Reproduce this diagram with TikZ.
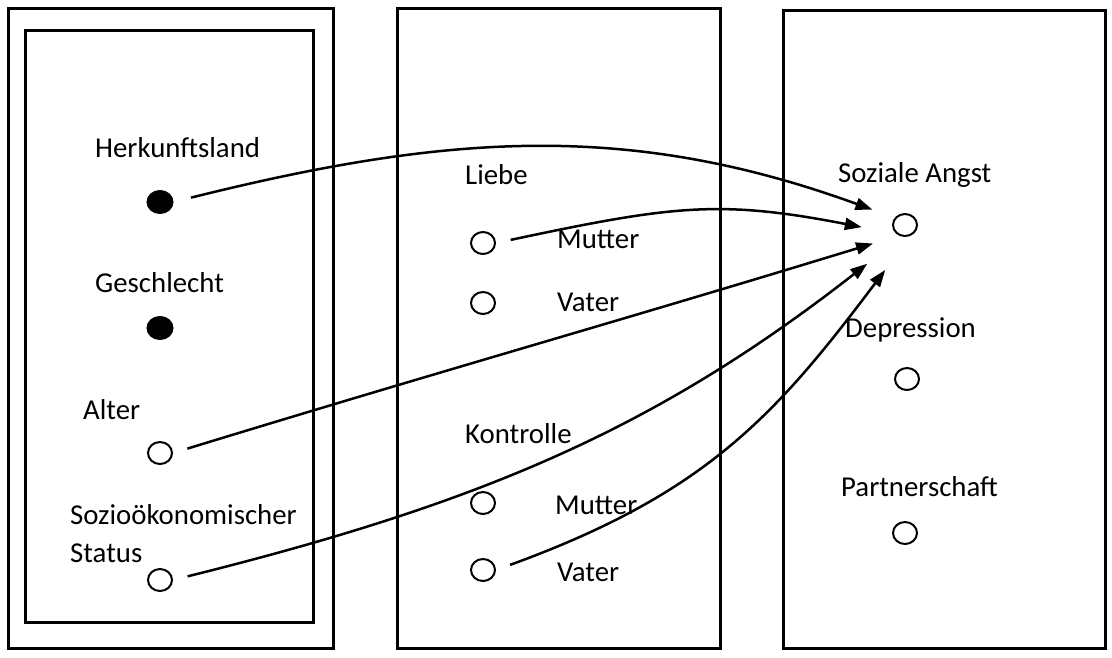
\documentclass[tikz,border=0pt]{standalone}
\usepackage{fontspec}
\setmainfont{Carlito}
\usetikzlibrary{arrows.meta,shapes.geometric}
\begin{document}
\begin{tikzpicture}[x=1pt,y=1pt,
  frame/.style={draw,line width=3pt},
  lbl/.style={anchor=base west,inner sep=0pt,font=\fontsize{28.8}{34}\selectfont},
  openvar/.style={ellipse,draw,line width=2pt,minimum width=24pt,minimum height=22pt,inner sep=0pt},
  fillvar/.style={ellipse,draw,fill=black,line width=1pt,minimum width=26pt,minimum height=23pt,inner sep=0pt},
  conn/.style={line width=2.5pt,-{Triangle[length=17pt,width=12pt]}}
]
\useasboundingbox (0,0) rectangle (1112,-657);
% frames
\draw[frame] (8,-8) rectangle (333,-648);
\draw[frame] (25,-30) rectangle (313,-622);
\draw[frame] (397,-8) rectangle (720,-648);
\draw[frame] (783,-10) rectangle (1105,-648);
% left column
\node[lbl] (th) at (95,-157) {Herkunftsland};
\node[fillvar] (h) at (160,-202) {};
\node[lbl] (tg) at (95,-292) {Geschlecht};
\node[fillvar] (g) at (160,-328) {};
\node[lbl] (ta) at (83,-419) {Alter};
\node[openvar] (al) at (160,-453) {};
\node[lbl] (ts1) at (70,-524) {Sozioökonomischer};
\node[lbl] (ts2) at (70,-562) {Status};
\node[openvar] (so) at (160,-580) {};
% middle column
\node[lbl] (tl) at (465,-184) {Liebe};
\node[openvar] (lm) at (483,-243) {};
\node[lbl] (tlm) at (557,-248) {Mutter};
\node[openvar] (lv) at (483,-303) {};
\node[lbl] (tlv) at (557,-311) {Vater};
\node[lbl] (tk) at (465,-443) {Kontrolle};
\node[openvar] (km) at (483,-503) {};
\node[lbl] (tkm) at (555,-514) {Mutter};
\node[openvar] (kv) at (483,-570) {};
\node[lbl] (tkv) at (557,-581) {Vater};
% right column
\node[lbl] (tsa) at (838,-182) {Soziale Angst};
\node[openvar] (sa) at (905,-225) {};
\node[lbl] (td) at (845,-337) {Depression};
\node[openvar] (de) at (907,-379) {};
\node[lbl] (tp) at (841,-496) {Partnerschaft};
\node[openvar] (pa) at (905,-533) {};
% connectors
\draw[conn,shorten <=18pt,shorten >=23.6pt] (h.east) to[out=14,in=160] (sa.145);
\draw[conn,shorten <=15pt,shorten >=35pt] (lm.east) to[out=12,in=169,looseness=1.15] (sa.225);
\draw[conn,shorten <=15pt,shorten >=27pt] (al.east) to[out=17,in=197] (sa.240);
\draw[conn,shorten <=15pt,shorten >=44pt] (so.east) to[out=14,in=218] (sa.255);
\draw[conn,shorten <=15pt,shorten >=43pt] (kv.east) to[out=20,in=233,looseness=1.08] (sa.300);
\end{tikzpicture}
\end{document}
